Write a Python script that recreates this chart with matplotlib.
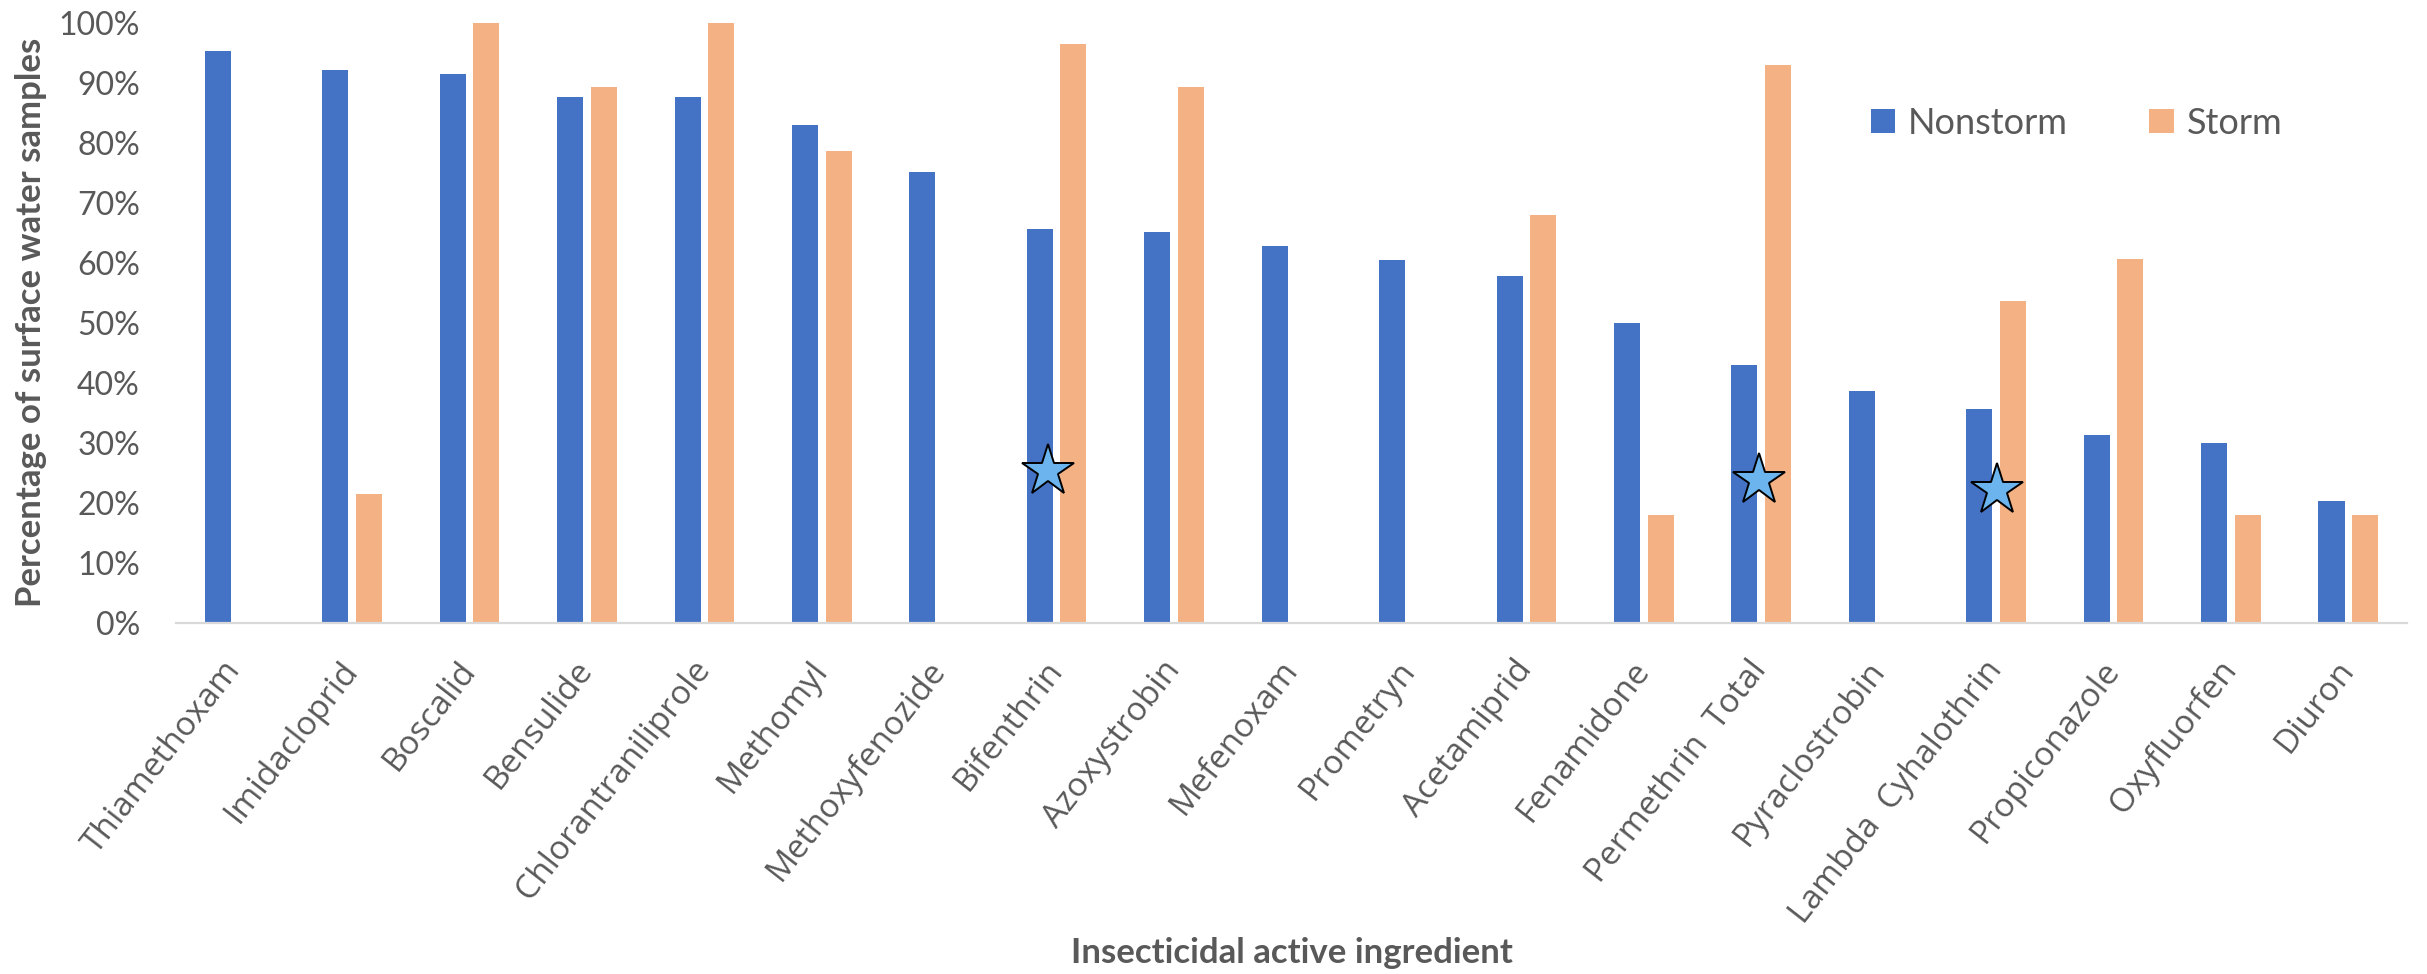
import numpy as np
import matplotlib
matplotlib.use("Agg")
import matplotlib.pyplot as plt
from matplotlib.ticker import PercentFormatter

ingredients = ["Thiamethoxam", "Imidacloprid", "Boscalid", "Bensulide",
               "Chlorantraniliprole", "Methomyl", "Methoxyfenozide", "Bifenthrin",
               "Azoxystrobin", "Mefenoxam", "Prometryn", "Acetamiprid", "Fenamidone",
               "Permethrin  Total", "Pyraclostrobin", "Lambda  Cyhalothrin",
               "Propiconazole", "Oxyfluorfen", "Diuron"]
nonstorm = [95.3, 92.2, 91.4, 87.6, 87.6, 82.9, 75.1, 65.7, 65.1, 62.8,
            60.4, 57.8, 49.9, 43.0, 38.6, 35.6, 31.3, 30.0, 20.3]
storm = [0, 21.4, 100, 89.3, 100, 78.6, 0, 96.4, 89.3, 0,
         0, 67.9, 17.9, 92.9, 0, 53.6, 60.7, 17.9, 17.9]

# starred ingredients: category index, star height (%), shift from category centre
star_idx = [7, 13, 15]
star_val = [25.3, 23.8, 22.1]
star_dx = [-0.07, -0.02, 0.01]

blue = "#4472C4"
orange = "#F4B183"
grey = "#595959"

fig = plt.figure(figsize=(24.27, 9.74), dpi=100)
ax = fig.add_axes([176 / 2427, 351.3 / 974, 2231 / 2427, 600 / 974])

x = np.arange(len(ingredients))
w = 0.222
ax.bar(x - 0.143, nonstorm, w, color=blue, label="Nonstorm", zorder=2)
ax.bar(x + 0.143, storm, w, color=orange, label="Storm", zorder=2)

ax.plot(x[star_idx] + np.array(star_dx), star_val, ls="none", marker="*",
        ms=39, mfc="#6CB4EE", mec="black", mew=1.4, zorder=4)

ax.set_xlim(-0.5, len(ingredients) - 0.5)
ax.set_ylim(0, 100)
ax.set_yticks(np.arange(0, 101, 10))
ax.yaxis.set_major_formatter(PercentFormatter(100, decimals=0))

for s in ["top", "right", "left"]:
    ax.spines[s].set_visible(False)
ax.spines["bottom"].set_color("#D9D9D9")
ax.spines["bottom"].set_linewidth(1.6)
ax.spines["bottom"].set_zorder(3)

ax.tick_params(axis="y", length=0, pad=26, labelsize=23, labelcolor=grey)
ax.tick_params(axis="x", length=0, pad=30, labelcolor=grey)
for lab in ax.get_yticklabels():
    lab.set_fontfamily("Lato")

ax.set_xticks(x)
ax.set_xticklabels(ingredients, rotation=52, ha="right", va="center",
                   rotation_mode="anchor", fontsize=24, family="Open Sans")

ax.set_ylabel("Percentage of surface water samples", fontsize=25,
              fontweight="bold", color=grey, family="Lato", va="center")
ax.yaxis.set_label_coords(-0.065, 0.5)
ax.set_xlabel("Insecticidal active ingredient", fontsize=25,
              fontweight="bold", color=grey, family="Lato", va="center")
ax.xaxis.set_label_coords(0.5, -0.55)

leg = ax.legend(loc="center left", bbox_to_anchor=(1871 / 2427, 1 - 123 / 974),
                bbox_transform=fig.transFigure, ncol=2, frameon=False,
                prop={"family": "Lato", "size": 26}, labelcolor=grey,
                handlelength=0.67, handleheight=0.67, handletextpad=0.36,
                columnspacing=2.25, borderpad=0, borderaxespad=0)

fig.savefig("out.png", dpi=100, facecolor="white")
